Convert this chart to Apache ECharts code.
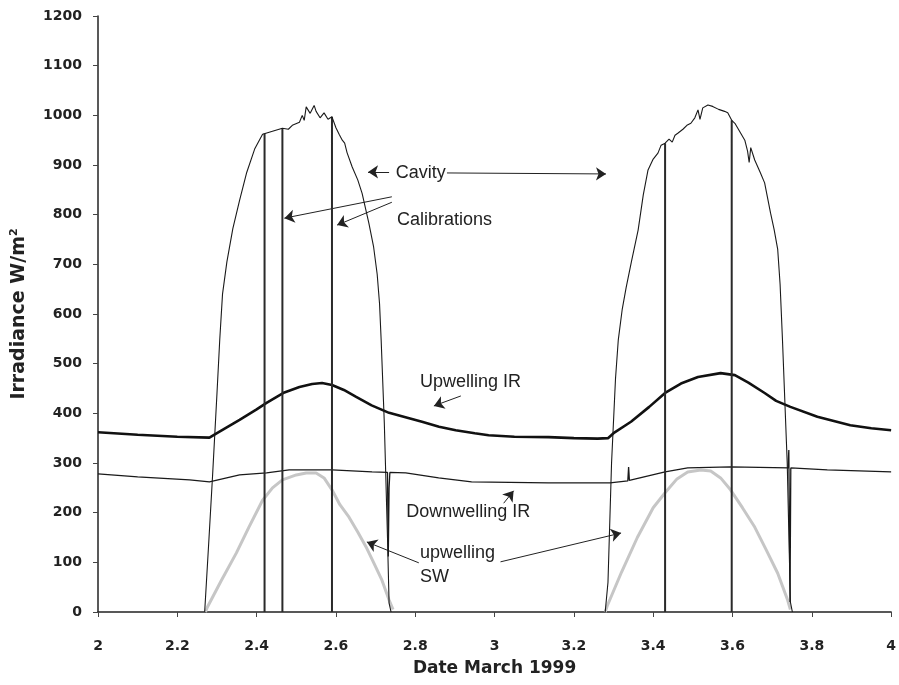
<!DOCTYPE html>
<html>
<head>
<meta charset="utf-8">
<script src="https://cdn.jsdelivr.net/npm/echarts@6/dist/echarts.min.js"></script>
<style>
  html, body { margin: 0; padding: 0; background: #ffffff; }
  #chart { width: 899px; height: 685px; }
</style>
</head>
<body>
<div id="chart"></div>
<script>
// Pyrheliometer cavity signal, [day of March 1999, W/m2]
const cavityDay1 = [
  [2.269, 0], [2.280, 150], [2.289, 276], [2.300, 440], [2.307, 548], [2.314, 640],
  [2.325, 705], [2.340, 772], [2.357, 829], [2.375, 885], [2.395, 932], [2.415, 962],
  [2.440, 968], [2.465, 974], [2.480, 972], [2.490, 980], [2.508, 986], [2.515, 1000],
  [2.520, 990], [2.525, 1017], [2.535, 1004], [2.545, 1020], [2.550, 1008], [2.560, 995],
  [2.570, 1005], [2.580, 992], [2.590, 997], [2.600, 975], [2.608, 962], [2.616, 950],
  [2.622, 944], [2.628, 925], [2.641, 896], [2.655, 870], [2.666, 843], [2.683, 783],
  [2.695, 735], [2.704, 680], [2.710, 620], [2.714, 548], [2.722, 380], [2.730, 150],
  [2.734, 18], [2.739, 0]
];
const cavityDay2 = [
  [3.279, 0], [3.286, 60], [3.295, 300], [3.305, 470], [3.312, 548], [3.322, 610],
  [3.332, 654], [3.345, 705], [3.362, 769], [3.375, 840], [3.387, 890], [3.400, 912],
  [3.412, 924], [3.420, 940], [3.430, 944], [3.440, 952], [3.448, 946], [3.455, 960],
  [3.462, 964], [3.475, 972], [3.485, 980], [3.495, 984], [3.505, 995], [3.513, 1011],
  [3.518, 992], [3.525, 1015], [3.538, 1021], [3.550, 1018], [3.565, 1012], [3.580, 1008],
  [3.588, 1005], [3.598, 990], [3.606, 984], [3.620, 965], [3.631, 950], [3.638, 928],
  [3.642, 905], [3.646, 935], [3.656, 910], [3.670, 885], [3.681, 864], [3.696, 803],
  [3.705, 770], [3.714, 730], [3.720, 660], [3.726, 548], [3.738, 300], [3.746, 20],
  [3.751, 0]
];
// Times at which the cavity was calibrated (signal drops to zero)
const calibrationTimes = [2.420, 2.465, 2.590, 3.430, 3.598];

// Upwelling longwave
const upwellingIR = [
  [2.000, 362], [2.100, 357], [2.200, 353], [2.281, 351], [2.300, 360], [2.357, 387],
  [2.400, 408], [2.425, 421], [2.470, 442], [2.508, 453], [2.540, 459], [2.565, 461],
  [2.590, 457], [2.620, 447], [2.651, 433], [2.690, 416], [2.734, 401], [2.780, 391],
  [2.817, 383], [2.860, 373], [2.902, 366], [2.950, 360], [2.985, 356], [3.050, 353],
  [3.136, 352], [3.200, 350], [3.260, 349], [3.286, 350], [3.300, 360], [3.344, 383],
  [3.390, 413], [3.430, 441], [3.470, 460], [3.513, 473], [3.570, 481], [3.606, 477],
  [3.640, 462], [3.681, 441], [3.710, 425], [3.746, 413], [3.814, 393], [3.897, 376],
  [3.950, 370], [4.000, 366]
];

// Downwelling longwave
const downwellingIR = [
  [2.000, 278], [2.100, 272], [2.231, 266], [2.281, 262], [2.357, 276], [2.425, 280],
  [2.482, 286], [2.590, 286], [2.691, 282], [2.730, 281], [2.732, 112], [2.734, 250],
  [2.736, 281], [2.776, 280], [2.859, 270], [2.942, 262], [3.136, 260], [3.291, 260],
  [3.336, 264], [3.338, 292], [3.340, 265], [3.344, 266], [3.430, 282], [3.487, 290],
  [3.595, 292], [3.740, 290], [3.742, 326], [3.745, 20], [3.747, 290], [3.839, 286],
  [4.000, 282]
];

// Upwelling shortwave
const upwellingSWDay1 = [
  [2.271, 0], [2.276, 10], [2.310, 62], [2.349, 119], [2.380, 170], [2.415, 225],
  [2.440, 250], [2.465, 266], [2.500, 276], [2.525, 280], [2.550, 280], [2.570, 270],
  [2.590, 246], [2.610, 216], [2.633, 191], [2.655, 161], [2.676, 131], [2.696, 98],
  [2.716, 64], [2.734, 24], [2.744, 5]
];
const upwellingSWDay2 = [
  [3.279, 0], [3.284, 12], [3.320, 80], [3.360, 150], [3.400, 210], [3.430, 240],
  [3.460, 268], [3.487, 282], [3.520, 286], [3.545, 284], [3.570, 270], [3.595, 246],
  [3.625, 210], [3.656, 171], [3.685, 125], [3.714, 78], [3.739, 24], [3.746, 5]
];

// Annotation text anchors (left-middle of the text) in data coordinates
const annotationTexts = [
  { text: 'Cavity',         at: [2.751, 884] },
  { text: 'Calibrations',   at: [2.754, 789] },
  { text: 'Upwelling IR',   at: [2.812, 463] },
  { text: 'Downwelling IR', at: [2.777, 201] },
  { text: 'upwelling',      at: [2.812, 119] },
  { text: 'SW',             at: [2.812, 70] }
];
// Annotation arrows: [from, arrow tip] in data coordinates
const annotationArrows = [
  [[2.734, 886], [2.681, 886]],
  [[2.880, 884], [3.281, 882]],
  [[2.741, 836], [2.470, 793]],
  [[2.741, 825], [2.603, 779]],
  [[2.915, 435], [2.847, 415]],
  [[3.023, 219], [3.048, 244]],
  [[2.809, 99],  [2.678, 141]],
  [[3.015, 101], [3.319, 159]]
];

// Value of a piecewise-linear record at time t
function valueAt(rec, t) {
  for (let i = 1; i < rec.length; i++) {
    if (rec[i][0] >= t) {
      const [x0, y0] = rec[i - 1], [x1, y1] = rec[i];
      return y0 + (y1 - y0) * (t - x0) / (x1 - x0);
    }
  }
  return rec[rec.length - 1][1];
}

// Each calibration: the signal falls from its current level to zero
const calibrations = [];
calibrationTimes.forEach(t => {
  const rec = t < 3 ? cavityDay1 : cavityDay2;
  calibrations.push([t, valueAt(rec, t)], [t, 0], [t, null]);
});

const cavity = cavityDay1.concat([[3.0, null]], cavityDay2);
const upwellingSW = upwellingSWDay1.concat([[3.0, null]], upwellingSWDay2);

const chart = echarts.init(document.getElementById('chart'), null, { renderer: 'canvas' });

const tickFont = { fontFamily: 'DejaVu Sans', fontWeight: 'bold', fontSize: 14, color: '#222' };

const option = {
  animation: false,
  backgroundColor: '#ffffff',
  grid: { left: 98, right: 4, top: 16, bottom: 73, containLabel: false },
  xAxis: {
    type: 'value', min: 2, max: 4, interval: 0.2,
    name: 'Date March 1999', nameLocation: 'middle', nameGap: 48,
    nameTextStyle: { fontFamily: 'DejaVu Sans', fontWeight: 'bold', fontSize: 17, color: '#222' },
    axisLine: { show: true, onZero: false, lineStyle: { color: '#222', width: 1.5 } },
    axisTick: { show: true, inside: false, length: 5, lineStyle: { color: '#444' } },
    axisLabel: Object.assign({ margin: 27, formatter: v => String(+v.toFixed(1)) }, tickFont),
    splitLine: { show: false }
  },
  yAxis: {
    type: 'value', min: 0, max: 1200, interval: 100,
    name: 'Irradiance W/m{sup|2}', nameLocation: 'middle', nameGap: 68, nameRotate: 90,
    nameTextStyle: {
      fontFamily: 'DejaVu Sans', fontWeight: 'bold', fontSize: 19, color: '#222',
      rich: { sup: { fontFamily: 'DejaVu Sans', fontWeight: 'bold', fontSize: 11, color: '#222', verticalAlign: 'top', padding: [0, 0, 10, 0] } }
    },
    axisLine: { show: true, lineStyle: { color: '#222', width: 1.5 } },
    axisTick: { show: true, inside: false, length: 5, lineStyle: { color: '#444' } },
    axisLabel: Object.assign({ margin: 16, formatter: v => String(v) }, tickFont),
    splitLine: { show: false }
  },
  series: [
    {
      name: 'upwelling SW', type: 'line', data: upwellingSW, showSymbol: false,
      connectNulls: false, z: 2,
      lineStyle: { color: '#c6c6c6', width: 3 }
    },
    {
      name: 'Downwelling IR', type: 'line', data: downwellingIR, showSymbol: false, z: 3,
      lineStyle: { color: '#1a1a1a', width: 1.3 }
    },
    {
      name: 'Upwelling IR', type: 'line', data: upwellingIR, showSymbol: false, z: 4,
      lineStyle: { color: '#111', width: 2.6 }
    },
    {
      name: 'Calibrations', type: 'line', data: calibrations, showSymbol: false,
      connectNulls: false, z: 5,
      lineStyle: { color: '#2a2a2a', width: 2 }
    },
    {
      name: 'Cavity', type: 'line', data: cavity, showSymbol: false, connectNulls: false, z: 6,
      lineStyle: { color: '#1a1a1a', width: 1.1 },
      markLine: {
        silent: true, animation: false,
        symbol: ['none', 'arrow'], symbolSize: 10,
        label: { show: false },
        lineStyle: { color: '#222', width: 1, type: 'solid' },
        emphasis: { disabled: true },
        data: annotationArrows.map(([a, b]) => [{ coord: a }, { coord: b }])
      }
    }
  ]
};
chart.setOption(option);

// Place the annotation captions
chart.setOption({
  graphic: annotationTexts.map(a => {
    const p = chart.convertToPixel({ gridIndex: 0 }, a.at);
    return {
      type: 'text', x: p[0], y: p[1], z: 20, silent: true,
      style: {
        text: a.text, fill: '#222', font: '18px "Liberation Sans", Arial, sans-serif',
        textAlign: 'left', textVerticalAlign: 'middle'
      }
    };
  })
});
</script>
</body>
</html>
